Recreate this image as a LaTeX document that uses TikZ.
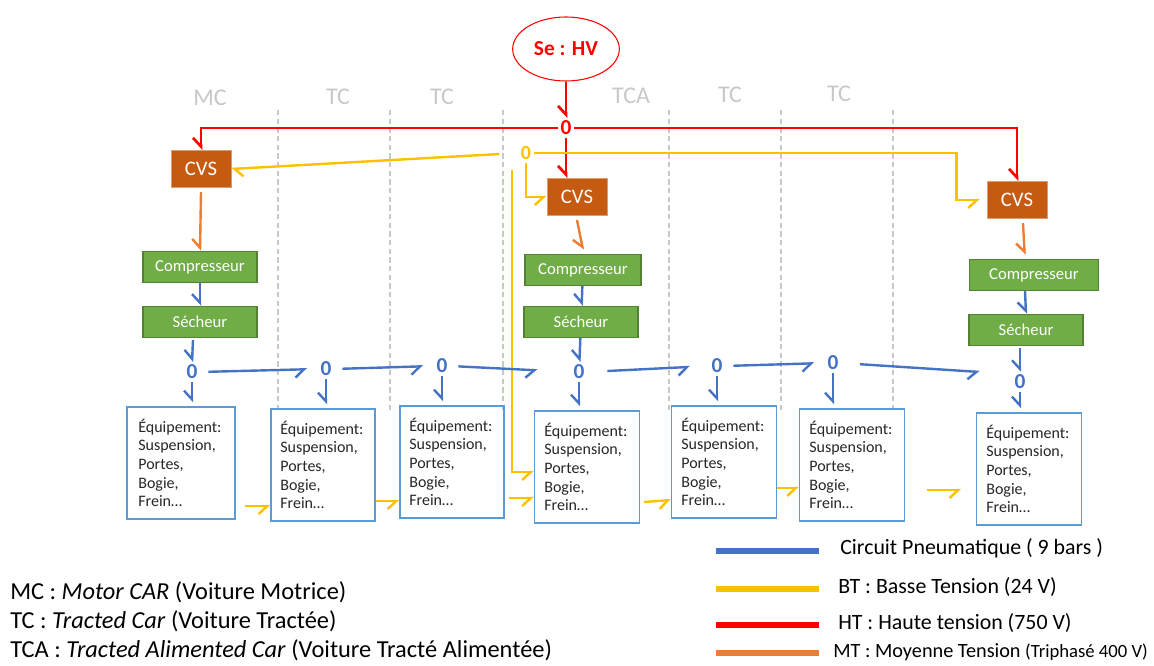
\documentclass[tikz,border=0pt]{standalone}
\usepackage{fontspec}
\setmainfont{Carlito}
\usetikzlibrary{arrows.meta,shapes.geometric,calc}
\definecolor{hvred}{RGB}{255,0,0}
\definecolor{pneublue}{RGB}{68,114,196}
\definecolor{btyellow}{RGB}{255,192,0}
\definecolor{mtorange}{RGB}{237,125,49}
\definecolor{cvsbrown}{RGB}{197,90,17}
\definecolor{greenfill}{RGB}{112,173,71}
\definecolor{greenedge}{RGB}{84,130,53}
\definecolor{eqedge}{RGB}{91,155,213}
\definecolor{cargray}{RGB}{200,200,200}

\begin{document}
\begin{tikzpicture}[x=0.75pt,y=-0.75pt,
    every node/.style={font=\fontsize{12}{14}\selectfont},
    half/.tip={Straight Barb[harpoon,swap,length=6.5pt,width=12pt]},
    halfl/.tip={Straight Barb[harpoon,length=6.5pt,width=12pt]},
    htline/.style={draw=hvred,line width=2pt,-half},
    btline/.style={draw=btyellow,line width=1.8pt,-half},
    mtline/.style={draw=mtorange,line width=1.8pt,-half},
    pnline/.style={draw=pneublue,line width=1.8pt,-half},
    carlabel/.style={text=cargray,font=\fontsize{18}{20}\selectfont},
    carsep/.style={draw=cargray,line width=0.8pt,dash pattern=on 4pt off 2.5pt},
    cvsbox/.style={fill=cvsbrown,draw=cvsbrown!60!white,line width=0.6pt,text=white,minimum width=45pt,minimum height=28pt,inner sep=0pt,font=\fontsize{15.5}{17}\selectfont},
    greenbox/.style={fill=greenfill,draw=greenedge,line width=0.8pt,text=white,minimum width=85.5pt,minimum height=23.5pt,inner sep=0pt,font=\fontsize{12.5}{14}\selectfont},
    eqbox/.style={draw=eqedge,line width=0.9pt,minimum width=78.75pt,minimum height=84pt,text width=64pt,inner sep=7pt,align=left,text=black!85},
    zero/.style={font=\bfseries\fontsize{16}{16}\selectfont,inner sep=2pt},
    legtext/.style={anchor=west,inner sep=0pt,font=\fontsize{16.4}{18}\selectfont},
    legbar/.style={line width=4.5pt}]
  \useasboundingbox (0,0) rectangle (1154,666);

  % wagons
  \foreach \x in {278,390,503,669,781,893}
    \draw[carsep] (\x,110) -- (\x,410);
  \node[carlabel] (mc) at (210,98) {MC};
  \node[carlabel] (tc1) at (338,97) {TC};
  \node[carlabel] (tc2) at (442,97) {TC};
  \node[carlabel] (tca) at (631,96) {TCA};
  \node[carlabel] (tc3) at (730,95) {TC};
  \node[carlabel] (tc4) at (839,94) {TC};

  % source and junctions
  \node[ellipse,draw=hvred,line width=0.8pt,minimum width=80pt,minimum height=48pt,text=hvred,font=\bfseries\fontsize{16}{18}\selectfont] (hv) at (566,49) {Se : HV};
  \node[zero,text=hvred] (zr) at (566,128) {0};
  \node[zero,text=btyellow,font=\bfseries\fontsize{15}{15}\selectfont] (zy) at (526,153) {0};
  \coordinate (ybus) at (512,170);

  % converters
  \node[cvsbox] (cvsA) at (201,169) {CVS};
  \node[cvsbox] (cvsB) at (577,197) {CVS};
  \node[cvsbox] (cvsC) at (1017,200) {CVS};

  % air production
  \node[greenbox] (compA) at (200,267) {Compresseur};
  \node[greenbox] (sechA) at (200,322) {Sécheur};
  \node[greenbox,minimum width=87pt] (compB) at (583,270) {Compresseur};
  \node[greenbox] (sechB) at (581,322) {Sécheur};
  \node[greenbox,minimum width=96.75pt] (compC) at (1034,275) {Compresseur};
  \node[greenbox] (sechC) at (1026,330) {Sécheur};

  % pneumatic junctions
  \node[zero,text=pneublue] (zbA) at (192,372) {0};
  \node[zero,text=pneublue] (zbB) at (326,369) {0};
  \node[zero,text=pneublue] (zbC) at (442,366) {0};
  \node[zero,text=pneublue] (zbD) at (579,372) {0};
  \node[zero,text=pneublue] (zbE) at (717,366) {0};
  \node[zero,text=pneublue] (zbF) at (833,363) {0};
  \node[zero,text=pneublue] (zbG) at (1020,382) {0};

  % equipment
  \node[eqbox,minimum width=81pt] (eqA) at (181,463) {Équipement:\\Suspension,\\Portes,\\Bogie,\\Frein…};
  \node[eqbox,minimum width=76.5pt] (eqB) at (323,465) {Équipement:\\Suspension,\\Portes,\\Bogie,\\Frein…};
  \node[eqbox,minimum width=75.75pt] (eqC) at (452,462) {Équipement:\\Suspension,\\Portes,\\Bogie,\\Frein…};
  \node[eqbox] (eqD) at (587,467) {Équipement:\\Suspension,\\Portes,\\Bogie,\\Frein…};
  \node[eqbox] (eqE) at (724,462) {Équipement:\\Suspension,\\Portes,\\Bogie,\\Frein…};
  \node[eqbox] (eqF) at (852,465) {Équipement:\\Suspension,\\Portes,\\Bogie,\\Frein…};
  \node[eqbox] (eqG) at (1029,469) {Équipement:\\Suspension,\\Portes,\\Bogie,\\Frein…};

  % high voltage
  \draw[htline] (hv.south) -- (zr.north);
  \draw[htline] (zr.west) -| (cvsA.north);
  \draw[htline] (zr.south) -- (zr.south |- cvsB.north);
  \draw[htline] (zr.east) -| (cvsC.north);

  % low voltage
  \draw[btline,-halfl,shorten <=14pt] (zy.west) -- (cvsA.east);
  \draw[btline] (zy.south) |- (cvsB.west);
  \draw[btline,shorten >=5pt] (zy.east) -- ($(zy.east -| cvsC.west)+(-30,0)$) |- (cvsC.west);
  \draw[btline] (ybus) |- ($(eqD.west)+(0,5)$);
  \draw[btline] (eqA.east |- 0,506) ++(9,0) -- (eqB.west |- 0,506);
  \draw[btline] (eqB.east |- 0,501) -- (eqC.west |- 0,501);
  \draw[btline] (eqC.east |- 0,498) ++(4,0) -- (eqD.west |- 0,498);
  \draw[btline] (eqD.east |- 0,502) ++(4,0) -- (eqE.west |- 0,500);
  \draw[btline] (eqE.east |- 0,488) -- (eqF.west |- 0,488);
  \draw[btline] (eqF.east |- 0,490) ++(22,0) -- ([xshift=-11pt]eqG.west |- 0,490);

  % medium voltage
  \draw[mtline] (cvsA.south) ++(0,4) -- (compA.north);
  \draw[mtline] (cvsB.south) ++(0,4) -- ([yshift=3pt]compB.north);
  \draw[mtline] (cvsC.south) ++(6,4) -- ([xshift=-7pt,yshift=3pt]compC.north);

  % pneumatic circuit
  \draw[pnline] (compA) -- (sechA);
  \draw[pnline] (sechA.south) ++(-7,2) -- (zbA.north);
  \draw[pnline] (compB) -- (sechB);
  \draw[pnline] (sechB) -- (zbD);
  \draw[pnline] (compC.south) ++(-9,0) -- (sechC.north);
  \draw[pnline] (sechC.south) ++(-6,2) -- (zbG.north);
  \draw[pnline,shorten <=6pt,shorten >=8pt] (zbA.east) -- (zbB.west);
  \draw[pnline,shorten <=6pt,shorten >=8pt] (zbB.east) -- (zbC.west);
  \draw[pnline,shorten <=6pt,shorten >=25pt] (zbC.east) -- (zbD.west);
  \draw[pnline,shorten <=15pt,shorten >=14pt] (zbD.east) -- (zbE.west);
  \draw[pnline,shorten <=6pt,shorten >=8pt] (zbE.east) -- (zbF.west);
  \draw[pnline,shorten <=14pt] (zbF.east) -- ([xshift=-24pt]zbG.north west);
  \foreach \z/\e in {zbA/eqA,zbB/eqB,zbC/eqC,zbD/eqD,zbE/eqE,zbF/eqF,zbG/eqG}
    \draw[pnline,shorten >=3pt] (\z.south) -- (\z.south |- \e.north);

  % legend
  \draw[legbar,draw=pneublue] (716,551) -- (819,551);
  \draw[legbar,draw=btyellow] (716,589) -- (819,589);
  \draw[legbar,draw=hvred] (716,625) -- (819,625);
  \draw[legbar,draw=mtorange] (716,653) -- (819,653);
  \node[legtext] (lpn) at (840,548) {Circuit Pneumatique ( 9 bars )};
  \node[legtext] (lbt) at (838,587) {BT : Basse Tension (24 V)};
  \node[legtext] (lht) at (838,623) {HT : Haute tension (750 V)};
  \node[legtext,font=\fontsize{15.2}{17}\selectfont] (lmt) at (833,652) {MT : Moyenne Tension {\fontsize{14}{17}\selectfont(Triphasé 400 V)}};
  \node[legtext,font=\fontsize{18.3}{20}\selectfont] (lmc) at (10,592) {MC : \textit{Motor CAR} (Voiture Motrice)};
  \node[legtext,font=\fontsize{18.3}{20}\selectfont] (ltc) at (10,621) {TC : \textit{Tracted Car} (Voiture Tractée)};
  \node[legtext,font=\fontsize{18.3}{20}\selectfont] (ltca) at (10,650) {TCA : \textit{Tracted Alimented Car} (Voiture Tracté Alimentée)};
\end{tikzpicture}
\end{document}
